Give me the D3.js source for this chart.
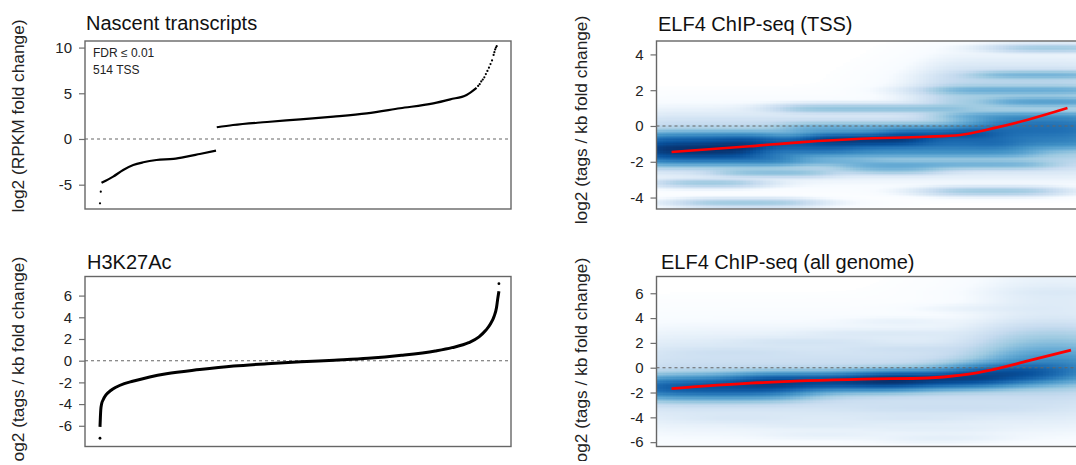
<!DOCTYPE html>
<meta charset="utf-8">
<style>
  body { margin: 0; background: #fff; font-family: 'Liberation Sans', Arial, Helvetica, sans-serif; }
  .tick line { stroke: #6e6e6e; stroke-width: 1.2; }
  .tick text { font-size: 15px; fill: #222; font-family: 'Liberation Sans', Arial, sans-serif; }
  .box { fill: none; stroke: #666; stroke-width: 1.4; }
  .zero { stroke: #666; stroke-width: 1.1; stroke-dasharray: 3,3; }
  .title { font-size: 20px; fill: #111; }
  .ylab { font-size: 17.3px; fill: #222; }
  .note { font-size: 12px; fill: #222; }
</style>
<body>
<div id="chart"></div>
<script src="https://d3js.org/d3.v7.min.js"></script>
<script>
// ---- values ----

// Nascent transcripts (514 TSS, ranked): [rank, log2 fold change]
var nascentDown = [[3, -4.8], [18, -4.12], [31, -3.39], [44, -2.85], [57, -2.55], [74, -2.3],
  [96, -2.17], [113, -1.93], [130, -1.64], [151, -1.28]];
var nascentUp = [[152, 1.28], [173, 1.53], [217, 1.86], [260, 2.15], [303, 2.45], [346, 2.81],
  [389, 3.36], [432, 3.9], [454, 4.34], [475, 4.82], [488, 5.6]];
var nascentDots = [[1, -7.04], [2, -5.77], [490, 5.8], [492, 6.0], [494, 6.3], [496, 6.5], [498, 6.75],
  [500, 7.1], [502, 7.45], [504, 7.8], [506, 8.2], [508, 8.6], [510, 9.2], [511, 9.5],
  [512, 9.8], [513, 10.0], [514, 10.15]];

// H3K27Ac (ranked, rank as fraction): line and the two extreme points
var h3Rank = [0, 0.001, 0.002, 0.004, 0.008, 0.015, 0.027, 0.04, 0.061, 0.082, 0.125, 0.167, 0.251,
  0.336, 0.42, 0.505, 0.589, 0.674, 0.758, 0.843, 0.885, 0.927, 0.953, 0.97, 0.982, 0.991, 0.997, 1.0, 1.003];
var h3Value = [-6.1, -5.2, -4.5, -4.0, -3.6, -3.16, -2.75, -2.45, -2.12, -1.9, -1.5, -1.2, -0.82,
  -0.5, -0.28, -0.1, 0.05, 0.22, 0.5, 0.9, 1.2, 1.66, 2.2, 2.8, 3.4, 4.1, 4.9, 5.7, 6.4];
var h3Dots = [[0, -7.15], [1.003, 7.1]];

// ELF4 ChIP-seq loess fits: [rank fraction, log2 fold change]
var tssFit = [[0, -1.45], [0.198, -1.13], [0.33, -0.9], [0.478, -0.71], [0.643, -0.6], [0.729, -0.5],
  [0.814, -0.12], [0.9, 0.35], [1.0, 1.0]];
var genomeFit = [[0, -1.69], [0.198, -1.25], [0.484, -0.92], [0.647, -0.83], [0.731, -0.6],
  [0.815, -0.13], [0.9, 0.55], [1.009, 1.42]];

// density streaks seen in the smoothed scatter: [rank from, rank to, log2 FC, weight, spread]
var tssStreaks = [
  [-0.08, 0.2, -1.3, 1.0, 0.3], [-0.08, 0.25, -0.75, 0.3, 0.25], [-0.08, 0.3, -1.8, 0.3, 0.25],
  [0.15, 0.45, -1.05, 0.45, 0.28], [0.35, 0.62, -0.75, 0.7, 0.22], [0.55, 0.8, -0.5, 0.45, 0.22],
  [0.45, 0.85, -1.0, 0.3, 0.22], [0.3, 0.9, -1.45, 0.15, 0.2], [0.72, 1.08, -0.3, 0.35, 0.3],
  [0.8, 1.08, 0.2, 0.25, 0.25], [0.8, 1.08, -0.9, 0.2, 0.25], [0.3, 0.7, -0.15, 0.1, 0.2],
  [-0.08, 1.08, -1.0, 0.05, 0.7], [0.68, 1.08, 1.5, 0.035, 0.9],
  [0.3, 0.73, 0.97, 0.055, 0.14], [0.686, 1.08, 2.0, 0.08, 0.14], [0.79, 1.08, 2.85, 0.08, 0.14],
  [0.85, 1.08, 4.35, 0.04, 0.13], [0.83, 1.08, 1.35, 0.12, 0.15], [0.713, 1.08, 0.55, 0.1, 0.15],
  [0.0, 0.19, -3.2, 0.045, 0.13], [0.054, 0.317, -4.3, 0.04, 0.13], [0.14, 0.375, -2.6, 0.06, 0.14],
  [0.198, 0.489, -2.0, 0.07, 0.15], [0.433, 0.653, -2.3, 0.05, 0.14], [0.478, 0.648, -2.5, 0.04, 0.13],
  [0.478, 0.933, -2.15, 0.08, 0.15], [0.686, 0.938, -3.65, 0.045, 0.13]
];
var genomeStreaks = [
  [-0.08, 0.3, -1.6, 0.8, 0.5], [0.2, 0.6, -1.15, 0.9, 0.4], [0.5, 0.82, -0.95, 1.0, 0.4],
  [0.75, 0.95, -0.45, 0.8, 0.45], [0.85, 1.08, 0.1, 0.35, 0.8], [0.85, 1.08, 1.6, 0.08, 1.0],
  [-0.08, 1.08, -1.0, 0.02, 1.6], [0.86, 1.08, 5.5, 0.004, 1.2],
  [0.03, 0.28, 1.27, 0.005, 0.22], [0.2, 0.49, 2.07, 0.005, 0.22], [0.37, 0.69, 2.74, 0.003, 0.22],
  [0.48, 0.73, 1.5, 0.006, 0.22], [0.5, 0.65, 3.7, 0.0015, 0.22], [0.69, 0.94, 4.76, 0.0015, 0.22],
  [0.89, 1.08, 6.1, 0.002, 0.22], [0.07, 0.28, -4.1, 0.003, 0.22], [0.24, 0.49, -4.6, 0.002, 0.22],
  [0.28, 0.49, -5.4, 0.0015, 0.22], [0.48, 0.9, -3.3, 0.005, 0.25], [0.48, 0.73, -4.1, 0.003, 0.22],
  [0.52, 0.81, -4.9, 0.0015, 0.22], [0.6, 0.81, -5.6, 0.0015, 0.22], [0.56, 0.73, -5.8, 0.001, 0.22]
];

var blues = ["#FFFFFF", "#F7FBFF", "#DEEBF7", "#C6DBEF", "#9ECAE1", "#6BAED6", "#4292C6", "#2171B5", "#08519C", "#08306B"];

var tlTicks = [-5, 0, 5, 10];
var blTicks = [-6, -4, -2, 0, 2, 4, 6];
var trTicks = [-4, -2, 0, 2, 4];
var brTicks = [-6, -4, -2, 0, 2, 4, 6];

// ---- layout ----
var svg = d3.select("#chart").append("svg")
  .attr("width", 1076)
  .attr("height", 465);

svg.append("clipPath").attr("id", "pageclip")
  .append("rect").attr("x", 0).attr("y", 0).attr("width", 1076).attr("height", 461);

var ramp = d3.scaleLinear()
  .domain(blues.map(function(d, i) { return i / (blues.length - 1); }))
  .range(blues);

function makePanel(p) {
  var x = d3.scaleLinear().domain(p.xDomain).range([p.x0, p.x0 + p.w]);
  var y = d3.scaleLinear().domain(p.yDomain).range([p.y0 + p.h, p.y0]);
  var g = svg.append("g");
  return { p: p, x: x, y: y, g: g };
}

function finishPanel(P) {
  var p = P.p;
  // box
  P.g.append("rect").attr("class", "box")
    .attr("x", p.x0).attr("y", p.y0).attr("width", p.w).attr("height", p.h);
  // y axis
  P.g.append("g")
    .attr("transform", "translate(" + p.x0 + ",0)")
    .call(d3.axisLeft(P.y).tickValues(p.ticks).tickSize(6).tickPadding(7)
      .tickFormat(function(d) { return String(d); }))
    .call(function(a) { a.select(".domain").remove(); });
  // title
  svg.append("text").attr("class", "title")
    .attr("x", p.titleX).attr("y", p.titleY).text(p.title);
  // y label (the figure is cut just below the bottom labels)
  svg.append("g").attr("clip-path", "url(#pageclip)")
    .append("text").attr("class", "ylab")
    .attr("transform", "translate(" + p.labX + "," + p.labY + ") rotate(-90)")
    .attr("text-anchor", "middle")
    .text(p.ylab);
}

function zeroLine(P) {
  P.g.append("line").attr("class", "zero")
    .attr("x1", P.p.x0).attr("x2", P.p.x0 + P.p.w)
    .attr("y1", P.y(0)).attr("y2", P.y(0));
}

function drawDensity(P, streaks, soft) {
  var p = P.p, nx = 128, ny = 128;
  var cw = p.w / nx, ch = p.h / ny;
  var cells = [];
  for (var i = 0; i < nx; i++) {
    for (var j = 0; j < ny; j++) {
      var xv = P.x.invert(p.x0 + (i + 0.5) * cw);
      var yv = P.y.invert(p.y0 + (j + 0.5) * ch);
      var s = 0;
      streaks.forEach(function(k) {
        var px = 1 / (1 + Math.exp(-(xv - k[0]) / soft)) / (1 + Math.exp((xv - k[1]) / soft));
        var dy = (yv - k[2]) / k[4];
        s += k[3] * px * Math.exp(-0.5 * dy * dy);
      });
      cells.push({ i: i, j: j, d: s });
    }
  }
  var max = d3.max(cells, function(c) { return c.d; });
  cells.forEach(function(c) { c.level = Math.pow(c.d / max, 0.25); });
  P.g.append("g").selectAll("rect")
    .data(cells.filter(function(c) { return c.level > 0.03; }))
    .enter().append("rect")
    .attr("x", function(c) { return p.x0 + c.i * cw; })
    .attr("y", function(c) { return p.y0 + c.j * ch; })
    .attr("width", cw + 0.4)
    .attr("height", ch + 0.4)
    .attr("shape-rendering", "crispEdges")
    .style("fill", function(c) { return ramp(c.level); });
}

// ---- top left: nascent transcripts ----
var tl = makePanel({ x0: 85, y0: 41, w: 426, h: 168, xDomain: [-18.4, 532.5], yDomain: [-7.66, 10.72],
  ticks: tlTicks, title: "Nascent transcripts", titleX: 86, titleY: 30,
  ylab: "log2 (RPKM fold change)", labX: 24, labY: 116 });
zeroLine(tl);
var tlLine = d3.line()
  .x(function(d) { return tl.x(d[0]); })
  .y(function(d) { return tl.y(d[1]); })
  .curve(d3.curveMonotoneX);
[nascentDown, nascentUp].forEach(function(seg) {
  tl.g.append("path").datum(seg)
    .attr("d", tlLine)
    .style("fill", "none").style("stroke", "#000").style("stroke-width", 2.2);
});
tl.g.selectAll("circle").data(nascentDots).enter().append("circle")
  .attr("cx", function(d) { return tl.x(d[0]); })
  .attr("cy", function(d) { return tl.y(d[1]); })
  .attr("r", 1.1).style("fill", "#000");
tl.g.append("text").attr("class", "note").attr("x", 93).attr("y", 57).text("FDR \u2264 0.01");
tl.g.append("text").attr("class", "note").attr("x", 93).attr("y", 74).text("514 TSS");
finishPanel(tl);

// ---- bottom left: H3K27Ac ----
var bl = makePanel({ x0: 85, y0: 276.5, w: 426, h: 170, xDomain: [-0.0377, 1.0334], yDomain: [-7.91, 7.76],
  ticks: blTicks, title: "H3K27Ac", titleX: 87, titleY: 269,
  ylab: "log2 (tags / kb fold change)", labX: 24, labY: 361 });
zeroLine(bl);
bl.g.append("path").datum(h3Rank.map(function(r, i) { return [r, h3Value[i]]; }))
  .attr("d", d3.line()
    .x(function(d) { return bl.x(d[0]); })
    .y(function(d) { return bl.y(d[1]); })
    .curve(d3.curveMonotoneX))
  .style("fill", "none").style("stroke", "#000").style("stroke-width", 3);
bl.g.selectAll("circle").data(h3Dots).enter().append("circle")
  .attr("cx", function(d) { return bl.x(d[0]); })
  .attr("cy", function(d) { return bl.y(d[1]); })
  .attr("r", 1.4).style("fill", "#000");
finishPanel(bl);

// ---- top right: ELF4 ChIP-seq (TSS) ----
var tr = makePanel({ x0: 656.5, y0: 41, w: 426, h: 168, xDomain: [-0.038, 1.038], yDomain: [-4.64, 4.75],
  ticks: trTicks, title: "ELF4 ChIP-seq (TSS)", titleX: 658, titleY: 31,
  ylab: "log2 (tags / kb fold change)", labX: 587, labY: 120 });
drawDensity(tr, tssStreaks, 0.03);
zeroLine(tr);
tr.g.append("path").datum(tssFit)
  .attr("d", d3.line()
    .x(function(d) { return tr.x(d[0]); })
    .y(function(d) { return tr.y(d[1]); })
    .curve(d3.curveMonotoneX))
  .style("fill", "none").style("stroke", "#ff0000").style("stroke-width", 2.6);
finishPanel(tr);

// ---- bottom right: ELF4 ChIP-seq (all genome) ----
var br = makePanel({ x0: 656.5, y0: 276.5, w: 426, h: 170, xDomain: [-0.038, 1.038], yDomain: [-6.35, 7.35],
  ticks: brTicks, title: "ELF4 ChIP-seq (all genome)", titleX: 661, titleY: 269,
  ylab: "log2 (tags / kb fold change)", labX: 587, labY: 362 });
drawDensity(br, genomeStreaks, 0.045);
zeroLine(br);
br.g.append("path").datum(genomeFit)
  .attr("d", d3.line()
    .x(function(d) { return br.x(d[0]); })
    .y(function(d) { return br.y(d[1]); })
    .curve(d3.curveMonotoneX))
  .style("fill", "none").style("stroke", "#ff0000").style("stroke-width", 2.8);
finishPanel(br);
</script>
</body>
